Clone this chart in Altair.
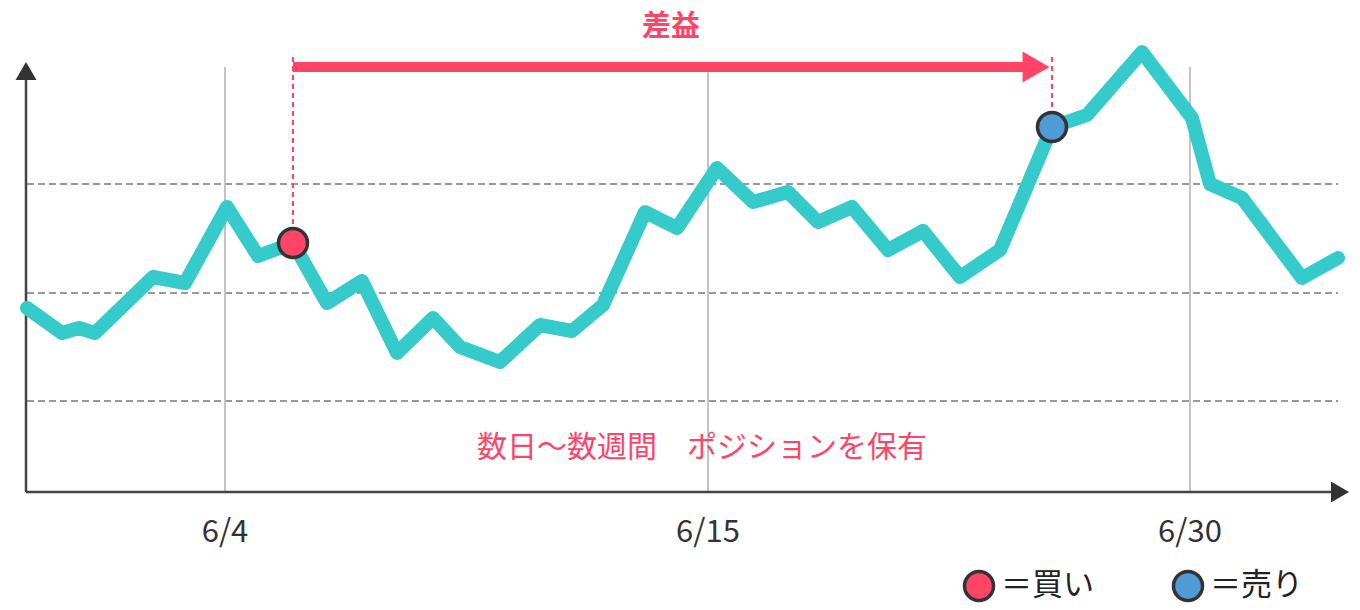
import altair as alt
import pandas as pd

# ---- data (x: horizontal position units, y: price units) ----
line_x = [27, 62, 79, 95, 153, 185, 227, 258, 293, 327, 362, 397, 433, 460, 500, 540, 572, 603,
          645, 677, 717, 753, 788, 818, 852, 888, 923, 960, 1000, 1052, 1087, 1142, 1192, 1210,
          1242, 1302, 1338]
line_top = [308, 333, 328, 333, 277, 283, 207, 256, 243, 303, 281, 353, 318, 347, 362, 325, 331, 305,
            212, 228, 168, 202, 192, 222, 207, 250, 231, 277, 250, 127, 115, 52, 118, 184,
            198, 278, 258]
line_y = [610 - v for v in line_top]

tick_x = [225, 708, 1190]
tick_labels = ["6/4", "6/15", "6/30"]
hgrid_y = [426, 317, 209]

buy_x, buy_y = 293, 610 - 243
sell_x, sell_y = 1052, 610 - 127

FONT = "Noto Sans CJK JP"
TEAL = "#36CBCB"
RED = "#FF4567"
BLUE = "#4F9BD5"
DARK = "#333333"

X = alt.Scale(domain=[8, 1352], nice=False, zero=False)
Y = alt.Scale(domain=[2, 602], nice=False, zero=False)


def xe(field="x"):
    return alt.X(f"{field}:Q", scale=X, axis=None)


def ye(field="y"):
    return alt.Y(f"{field}:Q", scale=Y, axis=None)


hgrid = alt.Chart(pd.DataFrame({"y": hgrid_y, "x": [27] * 3, "x2": [1338] * 3})).mark_rule(
    color="#999999", strokeWidth=2, strokeDash=[7, 4]
).encode(x=xe(), x2="x2:Q", y=ye())

vgrid = alt.Chart(pd.DataFrame({"x": tick_x, "y": [543] * 3, "y2": [118] * 3})).mark_rule(
    color="#C4C4C4", strokeWidth=2
).encode(x=xe(), y=ye(), y2="y2:Q")

xaxis = alt.Chart(pd.DataFrame({"x": [26], "x2": [1334], "y": [118]})).mark_rule(
    color="#444444", strokeWidth=2.5
).encode(x=xe(), x2="x2:Q", y=ye())
yaxis = alt.Chart(pd.DataFrame({"x": [26], "y": [118], "y2": [530]})).mark_rule(
    color="#444444", strokeWidth=2.5
).encode(x=xe(), y=ye(), y2="y2:Q")

arrow_up = alt.Chart(pd.DataFrame({"x": [26], "y": [610 - 71]})).mark_point(
    shape="triangle-up", size=441, filled=True, color=DARK, opacity=1
).encode(x=xe(), y=ye())
arrow_right = alt.Chart(pd.DataFrame({"x": [1340], "y": [118]})).mark_point(
    shape="triangle-right", size=441, filled=True, color=DARK, opacity=1
).encode(x=xe(), y=ye())

line = alt.Chart(pd.DataFrame({"x": line_x, "y": line_y, "o": list(range(len(line_x)))})).mark_line(
    color=TEAL, strokeWidth=14, strokeCap="round", strokeJoin="round"
).encode(x=xe(), y=ye(), order="o:Q")

dashes = alt.Chart(pd.DataFrame({"x": [buy_x, sell_x], "y": [553, 553], "y2": [buy_y, sell_y]})).mark_rule(
    color=RED, strokeWidth=2, strokeDash=[5, 4]
).encode(x=xe(), y=ye(), y2="y2:Q")

shaft = alt.Chart(pd.DataFrame({"x": [buy_x], "x2": [1026], "y": [543]})).mark_rule(
    color=RED, strokeWidth=10
).encode(x=xe(), x2="x2:Q", y=ye())
head = alt.Chart(pd.DataFrame({"x": [1036], "y": [543]})).mark_point(
    shape="triangle-right", size=961, filled=True, color=RED, opacity=1
).encode(x=xe(), y=ye())

pts = alt.Chart(pd.DataFrame({"x": [buy_x, sell_x], "y": [buy_y, sell_y], "c": [RED, BLUE]})).mark_point(
    shape="circle", size=841, filled=True, stroke=DARK, strokeWidth=3.5, opacity=1, fillOpacity=1
).encode(x=xe(), y=ye(), fill=alt.Fill("c:N", scale=None))

title = alt.Chart(pd.DataFrame({"x": [671], "y": [610 - 27], "t": ["差益"]})).mark_text(
    font=FONT, fontSize=29, fontWeight="bold", color=RED, align="center", baseline="middle"
).encode(x=xe(), y=ye(), text="t:N")

hold = alt.Chart(pd.DataFrame({"x": [702], "y": [610 - 448], "t": ["数日〜数週間　ポジションを保有"]})).mark_text(
    font=FONT, fontSize=30, color=RED, align="center", baseline="middle"
).encode(x=xe(), y=ye(), text="t:N")

ticks = alt.Chart(pd.DataFrame({"x": tick_x, "y": [610 - 533] * 3, "t": tick_labels})).mark_text(
    font=FONT, fontSize=31, color=DARK, align="center", baseline="middle"
).encode(x=xe(), y=ye(), text="t:N")

leg_pts = alt.Chart(pd.DataFrame({"x": [979, 1188], "y": [610 - 586] * 2, "c": [RED, BLUE]})).mark_point(
    shape="circle", size=841, filled=True, stroke=DARK, strokeWidth=3.5, opacity=1, fillOpacity=1
).encode(x=xe(), y=ye(), fill=alt.Fill("c:N", scale=None))
leg_txt = alt.Chart(pd.DataFrame({"x": [1001, 1210], "y": [610 - 586] * 2, "t": ["＝買い", "＝売り"]})).mark_text(
    font=FONT, fontSize=31, color="#222222", align="left", baseline="middle"
).encode(x=xe(), y=ye(), text="t:N")

chart = alt.layer(
    hgrid, vgrid, xaxis, yaxis, arrow_up, arrow_right, dashes, shaft, head, line, pts,
    title, hold, ticks, leg_pts, leg_txt
).properties(
    width=1344, height=600, padding=0,
    autosize=alt.AutoSizeParams(type="none"),
    background="white"
).configure_view(stroke=None)

chart.save("out.html", embed_options={"renderer": "svg", "actions": False})
